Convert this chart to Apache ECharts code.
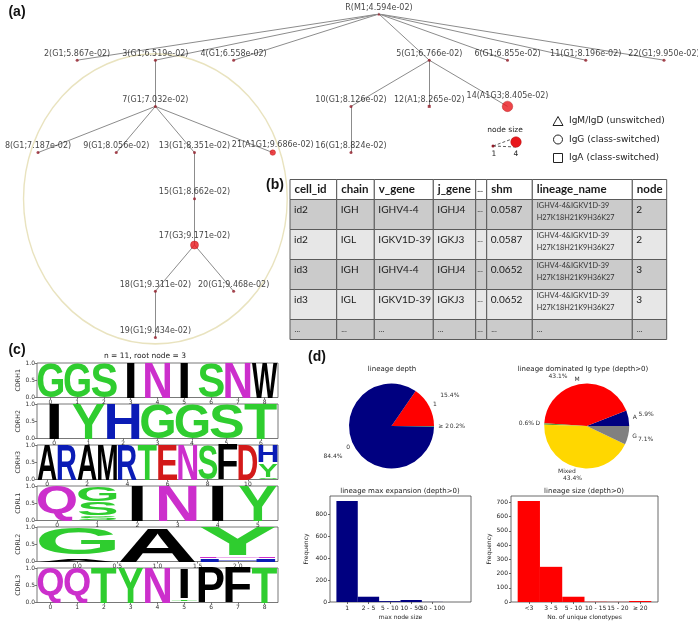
<!DOCTYPE html>
<html><head><meta charset="utf-8">
<script src="https://cdn.jsdelivr.net/npm/echarts@6/dist/echarts.min.js"></script>
<style>html,body{margin:0;padding:0;background:#fff}#c{width:698px;height:625px}</style>
</head><body><div id="c"></div>
<script>
// ================= DATA =================
// ---- Panel (a): lineage tree ----
const treeNodeIds = ['R','2','3','4','5','6','11','22','7','10','12','14','8','9','13','21','16','15','17','18','20','19'];
const treeNodeLabels = ['R(M1;4.594e-02)','2(G1;5.867e-02)','3(G1;6.519e-02)','4(G1;6.558e-02)','5(G1;6.766e-02)','6(G1;6.855e-02)','11(G1;8.196e-02)','22(G1;9.950e-02)','7(G1;7.032e-02)','10(G1;8.126e-02)','12(A1;8.265e-02)','14(A1G3;8.405e-02)','8(G1;7.187e-02)','9(G1;8.056e-02)','13(G1;8.351e-02)','21(A1G1;9.686e-02)','16(G1;8.824e-02)','15(G1;8.662e-02)','17(G3;9.171e-02)','18(G1;9.311e-02)','20(G1;9.468e-02)','19(G1;9.434e-02)'];
const treeParents = [null,'R','R','R','R','R','R','R','3','5','5','5','7','7','7','7','10','13','15','17','17','18'];
const treeEdgeLabels = [null,'0.1','0.106','0.111','0.111','0.111','0.118','0.127','0.018','0.018','0.016','0.018','0.001','0.01','0.013','0.029','0.007','0.006','0.006','0.001','0.007','0.004'];
const treeColumns = [null,1,3,5,10,12,14,16,3,8,10,12,0,2,4,6,8,4,4,3,5,3];   // leaf-order slot (root = mean of children)
const treeDepths  = [0,1,1,1,1,1,1,1,2,2,2,2,3,3,3,3,3,4,5,6,6,7];
const treeNodeSizes = [1,1,1,1,1,1,1,1,1,1,1,4,1,1,1,2,1,1,3,1,1,1];
const treeIsotypes = ['M','G','G','G','G','G','G','G','G','G','A','G','G','G','G','G','G','G','G','G','G','G'];
const highlightCenter = [3, 4];
const highlightRadii = [3.37, 3.14];
const isotypeLegend = ['IgM/IgD (unswitched)','IgG (class-switched)','IgA (class-switched)'];
const nodeSizeLegend = [1, 4];

// ---- Panel (b): table ----
const tableHeader = ['cell_id','chain','v_gene','j_gene','...','shm','lineage_name','node'];
const tableRows = [
  ['id2','IGH','IGHV4-4','IGHJ4','...','0.0587','IGHV4-4&IGKV1D-39\nH27K18H21K9H36K27','2'],
  ['id2','IGL','IGKV1D-39','IGKJ3','...','0.0587','IGHV4-4&IGKV1D-39\nH27K18H21K9H36K27','2'],
  ['id3','IGH','IGHV4-4','IGHJ4','...','0.0652','IGHV4-4&IGKV1D-39\nH27K18H21K9H36K27','3'],
  ['id3','IGL','IGKV1D-39','IGKJ3','...','0.0652','IGHV4-4&IGKV1D-39\nH27K18H21K9H36K27','3'],
  ['...','...','...','...','...','...','...','...']
];

// ---- Panel (c): sequence logos; each position = list of [letter, bottom, top] ----
const logoTitle = 'n = 11, root node = 3';
const logoNames = ['CDRH1','CDRH2','CDRH3','CDRL1','CDRL2','CDRL3'];
const cdrh1Logo = [[['G',0,1]],[['G',0,1]],[['S',0,1]],[['I',0,1]],[['N',0,1]],[['I',0,1]],[['S',0,1]],[['N',0,1]],[['W',0,1]]];
const cdrh2Logo = [[['I',0,1]],[['Y',0,1]],[['H',0,1]],[['G',0,1]],[['G',0,1]],[['S',0,1]],[['T',0,1]]];
const cdrh3Logo = [[['A',0,1]],[['R',0,1]],[['A',0,1]],[['M',0,1]],[['R',0,1]],[['T',0,1]],[['E',0,1]],[['N',0,1]],[['S',0,1]],[['F',0,1]],[['D',0,1]],[['S',0.02,0.07],['Y',0.08,0.46],['H',0.5,1]]];
const cdrl1Logo = [[['Q',0,1]],[['S',0.02,0.12],['S',0.14,0.53],['G',0.56,0.96]],[['I',0,1]],[['N',0,1]],[['I',0,1]],[['Y',0,1]]];
const cdrl2Logo = [[['A',0,0.06],['G',0.2,0.97]],[['A',0,0.98]],[['H',0,0.07],['N',0.1,0.15],['Y',0.18,1]]];
const cdrl3Logo = [[['Q',0,1]],[['Q',0,1]],[['T',0,1]],[['Y',0,1]],[['N',0,1]],[['T',0.05,0.1],['I',0.12,1]],[['P',0,1]],[['F',0,1]],[['T',0,1]]];
const logoXTicks = [[0,1,2,3,4,5,6,7,8],[0,1,2,3,4,5,6],[0,2,4,6,8,10],[0,1,2,3,4,5],[0,0.5,1,1.5,2],[0,1,2,3,4,5,6,7,8]];
const logoYTicks = [0, 0.5, 1];

// ---- Panel (d): pies and histograms ----
const depthNames = ['1','0','≥ 2'];
const depthValues = [15.4, 84.4, 0.2];
const igTypeNames = ['A','M','D','Mixed','G'];
const igTypeValues = [5.9, 43.1, 0.6, 43.4, 7.1];
const expansionLabels = ['1','2 - 5','5 - 10','10 - 50','50 - 100','≥ 100'];
const expansionCounts = [918, 48, 8, 18, 1, 0];
const expansionYTicks = [0,200,400,600,800];
const sizeLabels = ['<3','3 - 5','5 - 10','10 - 15','15 - 20','≥ 20'];
const sizeCounts = [709, 247, 37, 2, 1, 7];
const sizeYTicks = [0,100,200,300,400,500,600,700];

// ================= STYLE / LAYOUT =================
const FONT = '"DejaVu Sans"';
const tableColWidths = [46.7, 37.6, 59, 42.4, 11, 45.6, 100, 34.4];
const tableRowHeights = [20, 30, 30, 30, 30, 20];
const tableRowFills = ['#ffffff','#cbcbcb','#e7e7e7','#cbcbcb','#e7e7e7','#cbcbcb'];
const letterColor = ch => ({G:'#2fcd2f',S:'#2fcd2f',T:'#2fcd2f',Y:'#2fcd2f',C:'#2fcd2f',
  N:'#cc2fcc',Q:'#cc2fcc',H:'#0b1cb6',R:'#0b1cb6',K:'#0b1cb6',D:'#d31a1a',E:'#d31a1a'}[ch] || '#000000');
const depthColors = ['#ff0000','#000080','#3a9a3a'];
const igTypeColors = ['#000080','#ff0000','#5f9b3a','#ffd700','#808080'];

// ================= BUILD =================
const chart = echarts.init(document.getElementById('c'), null, {renderer:'canvas', width:698, height:625});
const grids = [], xAxes = [], yAxes = [], series = [];

// ---- tree ----
const colOf = {}, depthOf = {};
treeNodeIds.forEach((id,i)=>{ depthOf[id]=treeDepths[i]; if (treeColumns[i]!==null) colOf[id]=treeColumns[i]; });
const rootKids = treeNodeIds.filter((id,i)=>treeParents[i]==='R');
colOf['R'] = rootKids.reduce((s,id)=>s+colOf[id],0)/rootKids.length;
grids.push({left:38, top:14, width:626, height:323.4, outerBoundsMode:'none'});
xAxes.push({gridIndex:0, type:'value', min:0, max:16, show:false});
yAxes.push({gridIndex:0, type:'value', min:0, max:7, inverse:true, show:false});
series.push({type:'custom', xAxisIndex:0, yAxisIndex:0, silent:true, z:1,
  data:[[highlightCenter[0], highlightCenter[1]]],
  renderItem:(params, api)=>{
    const c = api.coord([api.value(0), api.value(1)]);
    const s = api.size([highlightRadii[0], highlightRadii[1]], [api.value(0), api.value(1)]);
    return {type:'circle', x:c[0], y:c[1], scaleX:1, scaleY:s[1]/s[0], shape:{cx:0, cy:0, r:s[0]},
      style:{fill:'none', stroke:'#e9e3bf', lineWidth:1.4, strokeNoScale:true}};
  }});
const edgeData = [], edgeLabelData = [];
treeNodeIds.forEach((id,i)=>{
  const p = treeParents[i]; if (!p) return;
  edgeData.push({coords:[[colOf[p], depthOf[p]],[colOf[id], depthOf[id]]]});
  const dx = colOf[id]-colOf[p];
  const dy = dx < 0 ? 3.5 : (dx > 0 ? -1.5 : 2);
  edgeLabelData.push({value:[(colOf[p]+colOf[id])/2, (depthOf[p]+depthOf[id])/2], name:treeEdgeLabels[i], label:{offset:[0, dy]}});
});
series.push({type:'lines', coordinateSystem:'cartesian2d', xAxisIndex:0, yAxisIndex:0, silent:true, z:2,
  data:edgeData, lineStyle:{color:'#8c8c8c', width:1, opacity:1}, symbol:['none','none']});
series.push({type:'scatter', xAxisIndex:0, yAxisIndex:0, silent:true, z:3, symbolSize:0.1,
  itemStyle:{opacity:0}, data:edgeLabelData,
  label:{show:true, position:[0,0], align:'left', verticalAlign:'middle', formatter:p=>p.name,
    fontSize:5, fontFamily:FONT, color:'#333'}});
const sizePx = s => 3 + 2.5*(s-1);
const shapeOf = t => t==='M' ? 'triangle' : (t==='A' ? 'rect' : 'circle');
series.push({type:'scatter', xAxisIndex:0, yAxisIndex:0, silent:true, z:4,
  data: treeNodeIds.map((id,i)=>({value:[colOf[id], depthOf[id]], name:treeNodeLabels[i],
    symbol: shapeOf(treeIsotypes[i]), symbolSize: sizePx(treeNodeSizes[i]),
    itemStyle: treeNodeSizes[i] > 1 ? {color:'#e8161b', borderColor:'#b01010', borderWidth:0.5} : {color:'#921c28'}})),
  label:{show:true, position:'top', distance:1, formatter:p=>p.name, fontSize:8, fontFamily:FONT, color:'#111'}});

// ---- table ----
const colEdges = [0]; tableColWidths.forEach(w=>colEdges.push(colEdges[colEdges.length-1]+w));
const rowEdges = [0]; tableRowHeights.forEach(h=>rowEdges.push(rowEdges[rowEdges.length-1]+h));
grids.push({left:290, top:179.5, width:colEdges[colEdges.length-1], height:rowEdges[rowEdges.length-1], outerBoundsMode:'none'});
xAxes.push({gridIndex:1, type:'value', min:0, max:colEdges[colEdges.length-1], show:false});
yAxes.push({gridIndex:1, type:'value', min:0, max:rowEdges[rowEdges.length-1], inverse:true, show:false});
const tableCells = [];
for (let r=0; r<=tableRows.length; r++) for (let c=0; c<tableHeader.length; c++) tableCells.push([c, r]);
series.push({type:'custom', xAxisIndex:1, yAxisIndex:1, silent:true, data:tableCells,
  renderItem:(params, api)=>{
    const c = api.value(0), r = api.value(1);
    const p0 = api.coord([colEdges[c], rowEdges[r]]);
    const p1 = api.coord([colEdges[c+1], rowEdges[r+1]]);
    const txt = r===0 ? tableHeader[c] : tableRows[r-1][c];
    let font, ty, lh = 12, fill = '#1a1a1a', pad = 4.5;
    if (txt === '...') {
      font = (r===0 ? 'bold ' : '') + '8px Lato'; pad = (c===4) ? 1.5 : 4.5;
      ty = (r===0 || r===tableRows.length) ? (p0[1]+p1[1])/2 : p0[1]+10; fill = '#333';
    }
    else if (r===0) { font = 'bold 11.5px Lato'; ty = (p0[1]+p1[1])/2; }
    else if (txt.indexOf('\n')>=0) { font = '7.3px Lato'; ty = p0[1]+12.5; fill='#333'; }
    else { font = '10.1px Lato'; ty = p0[1]+10; pad = 4; }
    return {type:'group', children:[
      {type:'rect', shape:{x:p0[0], y:p0[1], width:p1[0]-p0[0], height:p1[1]-p0[1]},
        style:{fill:tableRowFills[r], stroke:'#5a5a5a', lineWidth:1}},
      {type:'text', x:p0[0]+pad, y:ty, style:{text:txt, font:font, fill:fill, lineHeight:lh,
        align:'left', verticalAlign:'middle', textAlign:'left', textVerticalAlign:'middle'}}
    ]};
  }});

// ---- logos ----
const mctx = document.createElement('canvas').getContext('2d');
const LOGO_FONT = 'bold 100px "Liberation Sans"';
const gcache = {};
function glyph(ch){
  if (!gcache[ch]) {
    mctx.font = LOGO_FONT; mctx.textBaseline = 'middle'; mctx.textAlign = 'left';
    const m = mctx.measureText(ch);
    gcache[ch] = {l:m.actualBoundingBoxLeft, r:m.actualBoundingBoxRight, a:m.actualBoundingBoxAscent, d:m.actualBoundingBoxDescent};
  }
  return gcache[ch];
}
const logos = [cdrh1Logo, cdrh2Logo, cdrh3Logo, cdrl1Logo, cdrl2Logo, cdrl3Logo];
logos.forEach((logo, k)=>{
  const gi = grids.length;
  grids.push({left:37, top:363 + 41*k, width:241, height:34.5, show:true, borderColor:'#555', borderWidth:0.8, backgroundColor:'#fff', outerBoundsMode:'none'});
  const isFrac = k===4;
  xAxes.push({gridIndex:gi, type:'value', min:-0.5, max:logo.length-0.5,
    axisLine:{show:false, onZero:false}, splitLine:{show:false},
    axisTick:{show:true, length:2, customValues:logoXTicks[k], lineStyle:{color:'#555', width:0.8}},
    axisLabel:{show:true, customValues:logoXTicks[k], margin:2, fontSize:6, fontFamily:FONT, color:'#333',
      formatter:v=> isFrac ? Number(v).toFixed(1) : String(v)}});
  yAxes.push({gridIndex:gi, type:'value', min:0, max:1, name:logoNames[k], nameLocation:'middle', nameGap:15, nameRotate:90,
    nameTextStyle:{fontSize:6.3, fontFamily:FONT, color:'#333'},
    axisLine:{show:false, onZero:false}, splitLine:{show:false},
    axisTick:{show:true, length:2, customValues:logoYTicks, lineStyle:{color:'#555', width:0.8}},
    axisLabel:{show:true, customValues:logoYTicks, margin:2, fontSize:6, fontFamily:FONT, color:'#333', formatter:v=>Number(v).toFixed(1)}});
  const items = [];
  logo.forEach((stack,pos)=>stack.forEach(([ch,b,t])=>items.push({ch, pos, b, t})));
  series.push({type:'custom', xAxisIndex:gi, yAxisIndex:gi, silent:true, z:5,
    data: items.map(it=>[it.pos, it.b, it.t]),
    renderItem:(params, api)=>{
      const it = items[params.dataIndex];
      const pos = api.value(0), b = api.value(1), t = api.value(2);
      const p0 = api.coord([pos-0.5, t]);
      const p1 = api.coord([pos+0.5, b]);
      const slot = p1[0]-p0[0], h = p1[1]-p0[1];
      const w = slot * (it.ch==='I' ? 0.3 : 0.95);
      const x0 = p0[0] + (slot-w)/2;
      const g = glyph(it.ch);
      const sx = w/(g.l+g.r), sy = h/(g.a+g.d);
      return {type:'text', x:x0 + g.l*sx, y:p0[1] + g.a*sy, scaleX:sx, scaleY:sy,
        style:{text:it.ch, x:0, y:0, font:LOGO_FONT, fill:letterColor(it.ch),
          align:'left', verticalAlign:'middle', textAlign:'left', textVerticalAlign:'middle'}};
    }});
});

// ---- histograms ----
function addHist(left, width, labels, counts, ticks, color, xName, nameGap) {
  const gi = grids.length;
  grids.push({left:left, top:496, width:width, height:106, show:true, borderColor:'#444', borderWidth:0.8, outerBoundsMode:'none'});
  const idx = labels.map((l,i)=>i);
  xAxes.push({gridIndex:gi, type:'value', min:-0.8, max:labels.length-0.2, name:xName, nameLocation:'middle', nameGap:12,
    nameTextStyle:{fontSize:6, fontFamily:FONT, color:'#222'},
    axisLine:{show:false, onZero:false}, splitLine:{show:false},
    axisTick:{show:true, length:2, customValues:idx, lineStyle:{color:'#444', width:0.8}},
    axisLabel:{show:true, customValues:idx, margin:3, fontSize:6, fontFamily:FONT, color:'#222', formatter:v=>labels[Math.round(v)]}});
  yAxes.push({gridIndex:gi, type:'value', min:0, max:Math.max(...counts)*1.05, name:'Frequency', nameLocation:'middle', nameGap:nameGap, nameRotate:90,
    nameTextStyle:{fontSize:6, fontFamily:FONT, color:'#222'},
    axisLine:{show:false, onZero:false}, splitLine:{show:false},
    axisTick:{show:true, length:2, customValues:ticks, lineStyle:{color:'#444', width:0.8}},
    axisLabel:{show:true, customValues:ticks, margin:3, fontSize:6, fontFamily:FONT, color:'#222'}});
  series.push({type:'custom', xAxisIndex:gi, yAxisIndex:gi, silent:true, z:3,
    data: counts.map((v,i)=>[i, v]),
    renderItem:(params, api)=>{
      const x = api.value(0), v = api.value(1);
      const p0 = api.coord([x-0.5, v]), p1 = api.coord([x+0.5, 0]);
      return {type:'rect', shape:{x:p0[0], y:p0[1], width:p1[0]-p0[0], height:p1[1]-p0[1]}, style:{fill:color}};
    }});
}
addHist(330, 141, expansionLabels, expansionCounts, expansionYTicks, '#000080', 'max node size', 21);
addHist(511, 147, sizeLabels, sizeCounts, sizeYTicks, '#ff0000', 'No. of unique clonotypes', 17);

// ---- pies ----
const pctText = v => Number(v).toFixed(1) + '%';
function addPie(center, r, names, values, colors, pctDist, pctOverrides) {
  series.push({type:'pie', center:center, radius:r, clockwise:false, startAngle:0, avoidLabelOverlap:false, silent:true, z:3,
    data: names.map((n,i)=>({name:n, value:values[i], itemStyle:{color:colors[i]}})),
    itemStyle:{borderWidth:0},
    label:{show:true, position:'outside', formatter:'{b}', fontSize:6, fontFamily:FONT, color:'#333', distanceToLabelLine:0, alignTo:'none'},
    labelLayout:{hideOverlap:false},
    labelLine:{show:false, length:r*0.1, length2:0}, emphasis:{disabled:true}});
  series.push({type:'pie', center:center, radius:[0, 2*pctDist*r], clockwise:false, startAngle:0, avoidLabelOverlap:false, silent:true, z:4,
    data: names.map((n,i)=>{ const d = {name:n, value:values[i]}; if (pctOverrides && pctOverrides[n]) d.label = pctOverrides[n]; return d; }),
    itemStyle:{color:'rgba(0,0,0,0)', borderWidth:0},
    label:{show:true, position:'inside', rotate:0, formatter:p=>pctText(p.value), fontSize:6, fontFamily:FONT, color:'#333'},
    labelLayout:{hideOverlap:false},
    labelLine:{show:false}, emphasis:{disabled:true}});
}
addPie([391.5, 426], 42.5, depthNames, depthValues, depthColors, 1.48, null);
addPie([586.7, 426], 42.5, igTypeNames, igTypeValues, igTypeColors, 1.35, {
  M:{formatter:p=>'\n'+pctText(p.value), lineHeight:20, padding:[0,39,0,0]},
  Mixed:{formatter:p=>pctText(p.value)+'\n', lineHeight:12}
});

// ---- static texts / legends ----
const T = (x,y,text,font,align,fill) => ({type:'text', x:x, y:y, silent:true, z:10,
  style:{text:text, font:font, fill:fill||'#222', align:align||'center', verticalAlign:'middle', textAlign:align||'center', textVerticalAlign:'middle'}});
const graphic = [
  T(17, 12, '(a)', 'bold 14px "Liberation Sans"', 'center', '#111'),
  T(275, 185, '(b)', 'bold 14px "Liberation Sans"', 'center', '#111'),
  T(17, 350, '(c)', 'bold 14px "Liberation Sans"', 'center', '#111'),
  T(317, 357, '(d)', 'bold 14px "Liberation Sans"', 'center', '#111'),
  T(145, 356, logoTitle, '7.5px '+FONT, 'center', '#222'),
  T(392, 369, 'lineage depth', '7px '+FONT, 'center', '#222'),
  T(583, 369, 'lineage dominated Ig type (depth>0)', '7px '+FONT, 'center', '#222'),
  T(400, 491, 'lineage max expansion (depth>0)', '7px '+FONT, 'center', '#222'),
  T(584, 491, 'lineage size (depth>0)', '7px '+FONT, 'center', '#222'),
  T(505, 130, 'node size', '7.5px '+FONT, 'center', '#222'),
  {type:'line', silent:true, shape:{x1:493, y1:146, x2:516, y2:137.5}, style:{stroke:'#333', lineDash:[3,2], lineWidth:0.8}},
  {type:'line', silent:true, shape:{x1:493, y1:146, x2:516, y2:147}, style:{stroke:'#333', lineDash:[3,2], lineWidth:0.8}},
  {type:'circle', silent:true, shape:{cx:493, cy:146, r:sizePx(nodeSizeLegend[0])/2}, style:{fill:'#921c28'}},
  {type:'circle', silent:true, shape:{cx:516, cy:142, r:sizePx(nodeSizeLegend[1])/2}, style:{fill:'#e8161b', stroke:'#b01010', lineWidth:0.5}},
  T(494, 154, String(nodeSizeLegend[0]), '7.5px '+FONT, 'center', '#222'),
  T(516, 154, String(nodeSizeLegend[1]), '7.5px '+FONT, 'center', '#222'),
  {type:'polygon', silent:true, shape:{points:[[558,116.5],[553,125.5],[563,125.5]]}, style:{fill:'none', stroke:'#222', lineWidth:1}},
  {type:'circle', silent:true, shape:{cx:558, cy:139.5, r:4.5}, style:{fill:'none', stroke:'#222', lineWidth:1}},
  {type:'rect', silent:true, shape:{x:553.5, y:153.5, width:9, height:9}, style:{fill:'none', stroke:'#222', lineWidth:1}},
  T(569, 121, isotypeLegend[0], '9px '+FONT, 'left', '#222'),
  T(569, 139.5, isotypeLegend[1], '9px '+FONT, 'left', '#222'),
  T(569, 158, isotypeLegend[2], '9px '+FONT, 'left', '#222')
];

chart.setOption({
  animation:false,
  backgroundColor:'#ffffff',
  textStyle:{fontFamily:FONT},
  grid:grids, xAxis:xAxes, yAxis:yAxes, series:series, graphic:graphic
});
</script></body></html>
